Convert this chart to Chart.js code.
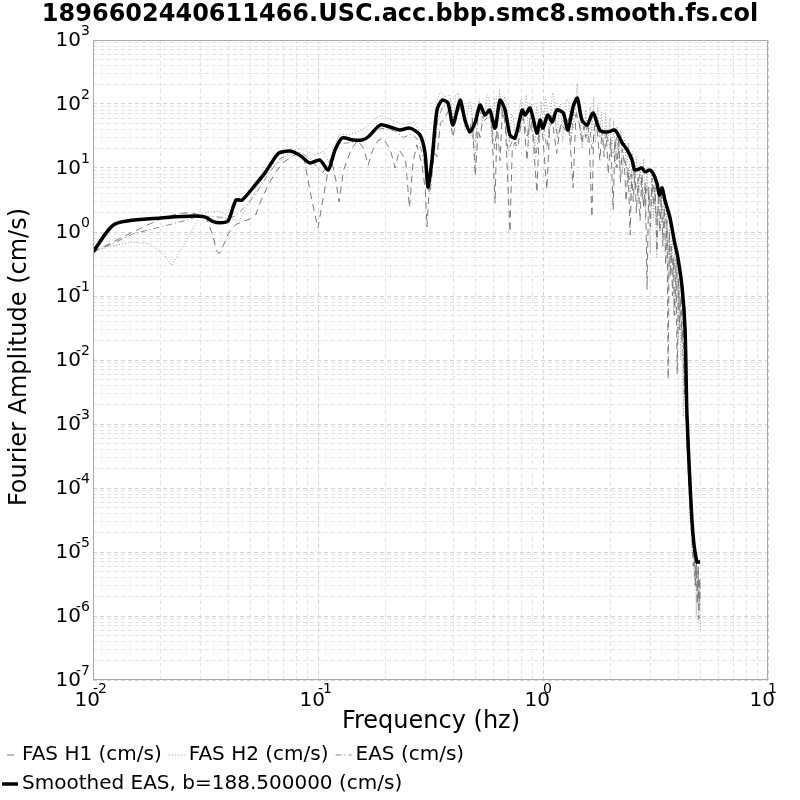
<!DOCTYPE html>
<html>
<head>
<meta charset="utf-8">
<script src="https://cdn.jsdelivr.net/npm/chart.js@4.4.1/dist/chart.umd.min.js"></script>
<style>
  html, body { margin: 0; padding: 0; background: #fff; }
  #wrap { width: 800px; height: 800px; }
</style>
</head>
<body>
<div id="wrap"><canvas id="chart" width="800" height="800"></canvas></div>
<script>
const titleText = "1896602440611466.USC.acc.bbp.smc8.smooth.fs.col";
const xTitle = "Frequency (hz)";
const yTitle = "Fourier Amplitude (cm/s)";
const xDecades = [-2, -1, 0, 1];
const yDecades = [-7, -6, -5, -4, -3, -2, -1, 0, 1, 2, 3];

const seriesLabels = ["FAS H1 (cm/s)", "FAS H2 (cm/s)", "EAS (cm/s)", "Smoothed EAS, b=188.500000 (cm/s)"];

// FAS H1 (dashed)
const h1Freq = [0.01, 0.0125, 0.015, 0.018, 0.02, 0.024, 0.027, 0.03, 0.032, 0.034, 0.0355, 0.0365, 0.038, 0.04, 0.043, 0.046, 0.05, 0.053, 0.056, 0.06, 0.065, 0.07, 0.076, 0.082, 0.087, 0.092, 0.097, 0.1, 0.104, 0.11, 0.115, 0.12, 0.124, 0.13, 0.14, 0.15, 0.16, 0.167, 0.175, 0.185, 0.195, 0.21, 0.22, 0.23, 0.245, 0.255, 0.265, 0.275, 0.29, 0.3, 0.305, 0.32, 0.338, 0.35, 0.367, 0.38, 0.398, 0.415, 0.43, 0.45, 0.47, 0.485, 0.5, 0.515, 0.525, 0.545, 0.57, 0.59, 0.612, 0.625, 0.644, 0.66, 0.68, 0.713, 0.73, 0.75, 0.774, 0.8, 0.82, 0.849, 0.87, 0.9, 0.94, 0.96, 0.99, 1.04, 1.07, 1.1, 1.15, 1.2, 1.25, 1.3, 1.36, 1.4, 1.45,
  1.49, 1.52, 1.55, 1.58, 1.61, 1.65, 1.68, 1.72, 1.76, 1.79, 1.83, 1.87, 1.91, 1.95, 2.0, 2.05, 2.09, 2.13, 2.17, 2.21, 2.25, 2.3, 2.34, 2.39, 2.44, 2.48, 2.52, 2.56, 2.6, 2.65, 2.7, 2.75, 2.8, 2.85, 2.9, 2.95, 3.0, 3.05, 3.1, 3.15, 3.21, 3.26, 3.31, 3.36, 3.41, 3.46, 3.51, 3.56, 3.6, 3.64, 3.68, 3.72, 3.76, 3.8, 3.85, 3.9, 3.95, 4.0, 4.05, 4.1, 4.15, 4.2, 4.25, 4.3, 4.35, 4.4, 4.45, 4.5, 4.55, 4.6, 4.65, 4.7, 4.75, 4.8, 4.85, 4.9, 4.93, 4.96, 5.0];
const h1Amp = [0.49, 0.72, 1.0, 1.35, 1.6, 1.95, 2.0, 1.85, 1.6, 0.9, 0.5, 0.46, 0.62, 0.95, 1.3, 1.45, 1.6, 1.9, 3.2, 5.4, 8.7, 12, 15, 17, 13.3, 4.5, 1.85, 1.15, 2.6, 7.8, 13, 6.5, 2.95, 9.3, 19, 27, 20, 11, 19, 27, 29, 19, 10, 19, 13.3, 2.4, 13, 23, 11, 4.5, 1.2, 20, 15, 50, 60, 80, 30, 70, 90, 56, 35, 60, 7.5, 40, 30, 70, 60, 65, 2.8, 50, 13, 80, 50, 1.0, 20, 25, 21, 55, 60, 13, 50, 35, 4.1, 30, 45, 4.6, 40, 55, 17, 50, 40, 60, 4.9, 70, 50,
  24, 45, 30, 55, 20, 1.7, 35, 60, 25, 13, 40, 15, 35, 8, 30, 2.2, 28, 10, 30, 6, 20, 12, 3, 10, 0.9, 8, 3, 9, 2, 7, 1.5, 8, 2.5, 6, 0.127, 5, 1.2, 7, 2.5, 5, 0.49, 4, 1.0, 4, 0.6, 2.5, 0.3, 1.5, 0.005, 1.0, 0.2, 0.6, 0.1, 0.4, 0.05, 0.3, 0.006, 0.2, 0.03, 0.1, 0.02, 0.04, 3e-3, 8e-3, 6e-4, 3e-4, 1e-4, 6e-5, 2.5e-5, 1.5e-5, 6e-6, 1.2e-5, 3e-6, 9e-6, 1.5e-6, 6e-6, 9e-7, 4e-6, 1.5e-6];

// FAS H2 (dotted)
const h2Freq = [0.01, 0.0119, 0.0149, 0.0178, 0.0204, 0.0224, 0.0241, 0.0272, 0.0301, 0.0337, 0.0369, 0.0397, 0.0412, 0.0446, 0.0497, 0.0552, 0.0644, 0.077, 0.085, 0.09, 0.096, 0.1, 0.106, 0.112, 0.118, 0.125, 0.135, 0.15, 0.165, 0.18, 0.19, 0.2, 0.215, 0.23, 0.25, 0.265, 0.28, 0.295, 0.305, 0.312, 0.32, 0.335, 0.35, 0.37, 0.385,
  0.4, 0.41, 0.42, 0.43, 0.44, 0.45, 0.46, 0.47, 0.48, 0.49, 0.5, 0.51, 0.52, 0.535, 0.55, 0.565, 0.58, 0.59, 0.6, 0.61, 0.62, 0.63, 0.64, 0.65, 0.66, 0.675, 0.69, 0.7, 0.71, 0.725, 0.74, 0.755, 0.77, 0.785, 0.8, 0.815, 0.83, 0.845, 0.86, 0.875, 0.89, 0.905, 0.92, 0.935, 0.95, 0.965, 0.98, 0.995, 1.01, 1.025, 1.04, 1.06, 1.08, 1.1, 1.12, 1.14, 1.16, 1.18, 1.2, 1.22, 1.25, 1.27, 1.3, 1.33, 1.36, 1.39, 1.42, 1.45, 1.47, 1.49,
  1.52, 1.55, 1.58, 1.62, 1.65, 1.68, 1.71, 1.75, 1.78, 1.82, 1.86, 1.9, 1.94, 1.98, 2.02, 2.06, 2.1, 2.14, 2.18, 2.22, 2.26, 2.3, 2.35, 2.4, 2.45, 2.5, 2.55, 2.6, 2.65, 2.7, 2.75, 2.8, 2.85, 2.9, 2.95, 3.0, 3.05, 3.1, 3.15, 3.2, 3.25, 3.3, 3.35, 3.4, 3.45, 3.5, 3.55, 3.6, 3.65, 3.7, 3.75, 3.8, 3.85, 3.9, 3.95, 4.0, 4.05, 4.1, 4.15, 4.2, 4.25, 4.3, 4.35, 4.4, 4.45, 4.5, 4.55, 4.6, 4.65, 4.7, 4.75, 4.8, 4.85, 4.9, 4.95, 5.0];
const h2Amp = [0.49, 0.6, 0.69, 0.66, 0.48, 0.3, 0.47, 0.96, 1.9, 2.1, 2.1, 1.8, 1.6, 1.5, 2.9, 6.3, 11, 19, 20, 18, 16, 17, 18, 12, 22, 34, 33, 36, 44, 60, 66, 62, 55, 50, 48, 52, 40, 22, 7, 4.5, 18, 110, 155, 130, 140,
  60, 140, 150, 80, 100, 40, 60, 110, 90, 30, 10, 60, 120, 50, 70, 140, 110, 30, 40, 120, 130, 50, 170, 90, 60, 130, 100, 40, 25, 70, 60, 20, 40, 90, 120, 50, 90, 140, 30, 80, 100, 35, 20, 90, 70, 25, 110, 60, 40, 130, 100, 30, 60, 150, 130, 40, 30, 90, 100, 25, 50, 120, 110, 30, 40, 90, 210, 80, 60, 20,
  30, 80, 25, 90, 35, 130, 25, 90, 30, 75, 20, 70, 25, 60, 15, 55, 10, 45, 12, 40, 8, 30, 10, 25, 3, 18, 5, 15, 3, 12, 4, 14, 1.5, 10, 2, 0.47, 8, 1.5, 7, 0.4, 6, 1.0, 5, 0.8, 4, 0.5, 2.5, 0.127, 1.5, 0.3, 0.8, 0.05, 0.5, 0.08, 0.3, 0.02, 0.15, 0.01, 0.06, 1.3e-3, 0.01, 2e-3, 3e-3, 2e-4, 2e-4, 3e-5, 4e-5, 1e-5, 2e-5, 4e-6, 1e-5, 1e-6, 6e-6, 8e-7, 3e-6, 6e-7];

// EAS (dash-dot)
const easFreq = [0.01, 0.0125, 0.015, 0.02, 0.0255, 0.03, 0.033, 0.037, 0.04, 0.043, 0.047, 0.053, 0.06, 0.068, 0.078, 0.085, 0.092, 0.1, 0.105, 0.11, 0.117, 0.125, 0.14, 0.155, 0.17, 0.19, 0.205, 0.22, 0.24, 0.26, 0.28, 0.295, 0.305, 0.315, 0.325, 0.34, 0.36, 0.38, 0.4, 0.42, 0.44, 0.47, 0.5, 0.52, 0.55, 0.58, 0.61, 0.64, 0.67, 0.7, 0.74, 0.78, 0.81, 0.85, 0.88, 0.93, 0.97, 1.0, 1.04, 1.08, 1.12, 1.16, 1.22, 1.28, 1.33, 1.38, 1.43, 1.48, 1.55, 1.6, 1.65, 1.72, 1.8, 1.88, 1.96, 2.05, 2.12, 2.2, 2.3, 2.4, 2.5, 2.6, 2.7, 2.8, 2.9, 3.0, 3.1, 3.2, 3.3, 3.4, 3.5, 3.6, 3.7, 3.8, 3.9, 4.0, 4.1, 4.2, 4.3, 4.4, 4.5, 4.6, 4.7, 4.75, 4.8, 4.85, 4.9, 4.95, 5.0];
const easAmp = [0.49, 0.68, 0.93, 1.2, 1.5, 1.8, 1.75, 1.7, 1.6, 1.8, 2.4, 4, 8, 14, 18, 17, 14, 10, 8.5, 11, 17, 24, 25, 26, 32, 42, 40, 38, 30, 34, 27, 14, 5, 4, 12, 55, 95, 95, 45, 100, 70, 40, 25, 80, 55, 70, 20, 100, 70, 18, 30, 45, 75, 30, 65, 15, 50, 55, 20, 60, 75, 30, 55, 50, 25, 110, 55, 35, 45, 60, 20, 55, 30, 40, 25, 15, 30, 12, 15, 6, 10, 5, 8, 2.5, 5, 3, 5.5, 1.5, 4, 1.5, 2, 0.5, 0.6, 0.25, 0.4, 0.1, 0.05, 0.01, 2e-3, 3e-4, 6e-5, 2e-5, 1e-5, 3e-6, 8e-6, 2e-6, 5e-6, 1.5e-6, 4e-6];

// Smoothed EAS (thick black)
const smoothFreq = [0.01, 0.0125, 0.02, 0.027, 0.0315, 0.0338, 0.0366, 0.0398, 0.0432, 0.046, 0.0525, 0.0581, 0.0625, 0.067, 0.075, 0.083, 0.092, 0.102, 0.111, 0.119, 0.128, 0.143, 0.157, 0.167, 0.189, 0.209, 0.231, 0.256, 0.284, 0.299, 0.308, 0.321, 0.338, 0.356, 0.378, 0.398, 0.428, 0.45, 0.474, 0.5, 0.525, 0.552, 0.58, 0.612, 0.644, 0.678, 0.713, 0.751, 0.808, 0.833, 0.876, 0.94, 0.97, 1.0, 1.05, 1.1, 1.15, 1.23, 1.29, 1.36, 1.42, 1.49, 1.57, 1.67, 1.79, 1.93, 2.09, 2.25, 2.37, 2.49, 2.56, 2.75, 2.84, 2.98, 3.08, 3.21, 3.29, 3.38, 3.48, 3.66, 3.85, 3.97, 4.15, 4.28, 4.36, 4.5, 4.64, 4.83, 4.99];
const smoothAmp = [0.487, 1.33, 1.66, 1.77, 1.71, 1.48, 1.39, 1.48, 3.16, 3.16, 5.4, 8.4, 12.4, 17.1, 18.4, 15.8, 12, 13.3, 9.3, 19, 29.4, 27.4, 27.4, 30.5, 47, 43.7, 39.3, 42, 32.8, 17.1, 5.05, 13.3, 80.5, 115, 103.7, 47, 115, 56, 36.5, 52.3, 96.4, 67.3, 80.5, 42, 115, 80.5, 32.8, 29.4, 80.5, 67.3, 86.6, 35.2, 56, 42, 67.3, 52.3, 80.5, 72.4, 39.3, 89.8, 124, 56, 47, 72.4, 39, 36.5, 39, 24.6, 19, 13.3, 9.3, 10, 8.7, 9.3, 8.3, 5.8, 3.8, 4.9, 3.16, 1.72, 0.67, 0.41, 0.138, 0.0295, 1.5e-3, 1.2e-4, 1.9e-5, 7e-6, 7e-6];

const baseFont = '"DejaVu Sans", "Liberation Sans", sans-serif';

function toPoints(xs, ys) {
  return xs.map((x, i) => ({ x, y: ys[i] }));
}

function logTicks(decades) {
  const out = [];
  for (let i = 0; i < decades.length - 1; i++) {
    for (let m = 1; m < 10; m++) out.push(m * Math.pow(10, decades[i]));
  }
  out.push(Math.pow(10, decades[decades.length - 1]));
  return out;
}

function isDecade(v) {
  const l = Math.log10(v);
  return Math.abs(l - Math.round(l)) < 1e-6;
}

const gridColor = (ctx) => (ctx.tick && isDecade(ctx.tick.value) ? "#d4d4d4" : "#e4e4e4");

const textPlugin = {
  id: "textPlugin",
  afterDraw(chart) {
    const { ctx, chartArea, scales } = chart;
    const xs = scales.x, ys = scales.y;
    ctx.save();
    ctx.fillStyle = "#000";

    // frame
    ctx.strokeStyle = "#aaaaaa";
    ctx.lineWidth = 1;
    ctx.strokeRect(chartArea.left + 0.5, chartArea.top + 0.5, chartArea.right - chartArea.left - 1, chartArea.bottom - chartArea.top - 1);

    // title
    ctx.font = "bold 24px " + baseFont;
    ctx.textAlign = "center";
    ctx.textBaseline = "middle";
    ctx.fillText(titleText, 400, 15);

    // y tick labels
    yDecades.forEach((e) => {
      const py = ys.getPixelForValue(Math.pow(10, e));
      ctx.font = "20px " + baseFont;
      ctx.textAlign = "right";
      ctx.textBaseline = "middle";
      ctx.fillText("10", chartArea.left - 12, py + 1);
      ctx.font = "14px " + baseFont;
      ctx.fillText(String(e), chartArea.left - 3, py - 9);
    });

    // x tick labels
    xDecades.forEach((e) => {
      const px = xs.getPixelForValue(Math.pow(10, e));
      ctx.font = "20px " + baseFont;
      ctx.textAlign = "right";
      ctx.textBaseline = "middle";
      ctx.fillText("10", px + 7, chartArea.bottom + 21);
      ctx.font = "14px " + baseFont;
      ctx.textAlign = "left";
      ctx.fillText(String(e), px, chartArea.bottom + 9);
    });

    // axis titles
    ctx.font = "24px " + baseFont;
    ctx.textAlign = "center";
    ctx.textBaseline = "middle";
    ctx.fillText(xTitle, 431, 722);
    ctx.save();
    ctx.translate(20, 357);
    ctx.rotate(-Math.PI / 2);
    ctx.fillText(yTitle, 0, 0);
    ctx.restore();

    // legend
    const rows = [[0, 1, 2], [3]];
    const rowY = [755, 784];
    ctx.font = "20px " + baseFont;
    ctx.textAlign = "left";
    rows.forEach((row, r) => {
      let x = 2;
      const y = rowY[r];
      row.forEach((di) => {
        const ds = chart.data.datasets[di];
        ctx.save();
        ctx.strokeStyle = ds.borderColor;
        ctx.lineWidth = ds.borderWidth;
        ctx.setLineDash(ds.borderDash || []);
        ctx.lineDashOffset = ds.legendDashOffset || 0;
        ctx.beginPath();
        ctx.moveTo(x, y);
        ctx.lineTo(x + 16, y);
        ctx.stroke();
        ctx.restore();
        ctx.fillText(ds.label, x + 20, y);
        x += 20 + ctx.measureText(ds.label).width + 7;
      });
    });
    ctx.restore();
  },
};

new Chart(document.getElementById("chart"), {
  type: "line",
  data: {
    datasets: [
      {
        label: seriesLabels[0],
        data: toPoints(h1Freq, h1Amp),
        borderColor: "#7a7a7a",
        borderWidth: 1,
        borderDash: [7, 5],
        legendDashOffset: 7,
        pointRadius: 0,
        tension: 0,
        order: 1,
      },
      {
        label: seriesLabels[1],
        data: toPoints(h2Freq, h2Amp),
        borderColor: "#9a9a9a",
        borderWidth: 1,
        borderDash: [1, 2],
        pointRadius: 0,
        tension: 0,
        order: 2,
      },
      {
        label: seriesLabels[2],
        data: toPoints(easFreq, easAmp),
        borderColor: "#888888",
        borderWidth: 1,
        borderDash: [6, 3, 1, 3],
        pointRadius: 0,
        tension: 0,
        order: 3,
      },
      {
        label: seriesLabels[3],
        data: toPoints(smoothFreq, smoothAmp),
        borderColor: "#000000",
        borderWidth: 3.5,
        pointRadius: 0,
        tension: 0.25,
        order: 0,
      },
    ],
  },
  options: {
    responsive: false,
    animation: false,
    devicePixelRatio: 1,
    layout: { padding: { left: 93, top: 40, right: 32, bottom: 120 } },
    plugins: {
      legend: { display: false },
      title: { display: false },
      tooltip: { enabled: false },
    },
    scales: {
      x: {
        type: "logarithmic",
        min: 0.01,
        max: 10,
        afterBuildTicks(scale) {
          scale.ticks = logTicks(xDecades).map((v) => ({ value: v }));
        },
        afterFit(scale) { scale.height = 0; },
        ticks: { display: false, autoSkip: false },
        grid: { color: gridColor, drawTicks: false, lineWidth: 1 },
        border: { display: false, dash: [4, 3] },
      },
      y: {
        type: "logarithmic",
        min: 1e-7,
        max: 1e3,
        afterBuildTicks(scale) {
          scale.ticks = logTicks(yDecades).map((v) => ({ value: v }));
        },
        afterFit(scale) { scale.width = 0; },
        ticks: { display: false, autoSkip: false },
        grid: { color: gridColor, drawTicks: false, lineWidth: 1 },
        border: { display: false, dash: [4, 3] },
      },
    },
  },
  plugins: [textPlugin],
});
</script>
</body>
</html>
